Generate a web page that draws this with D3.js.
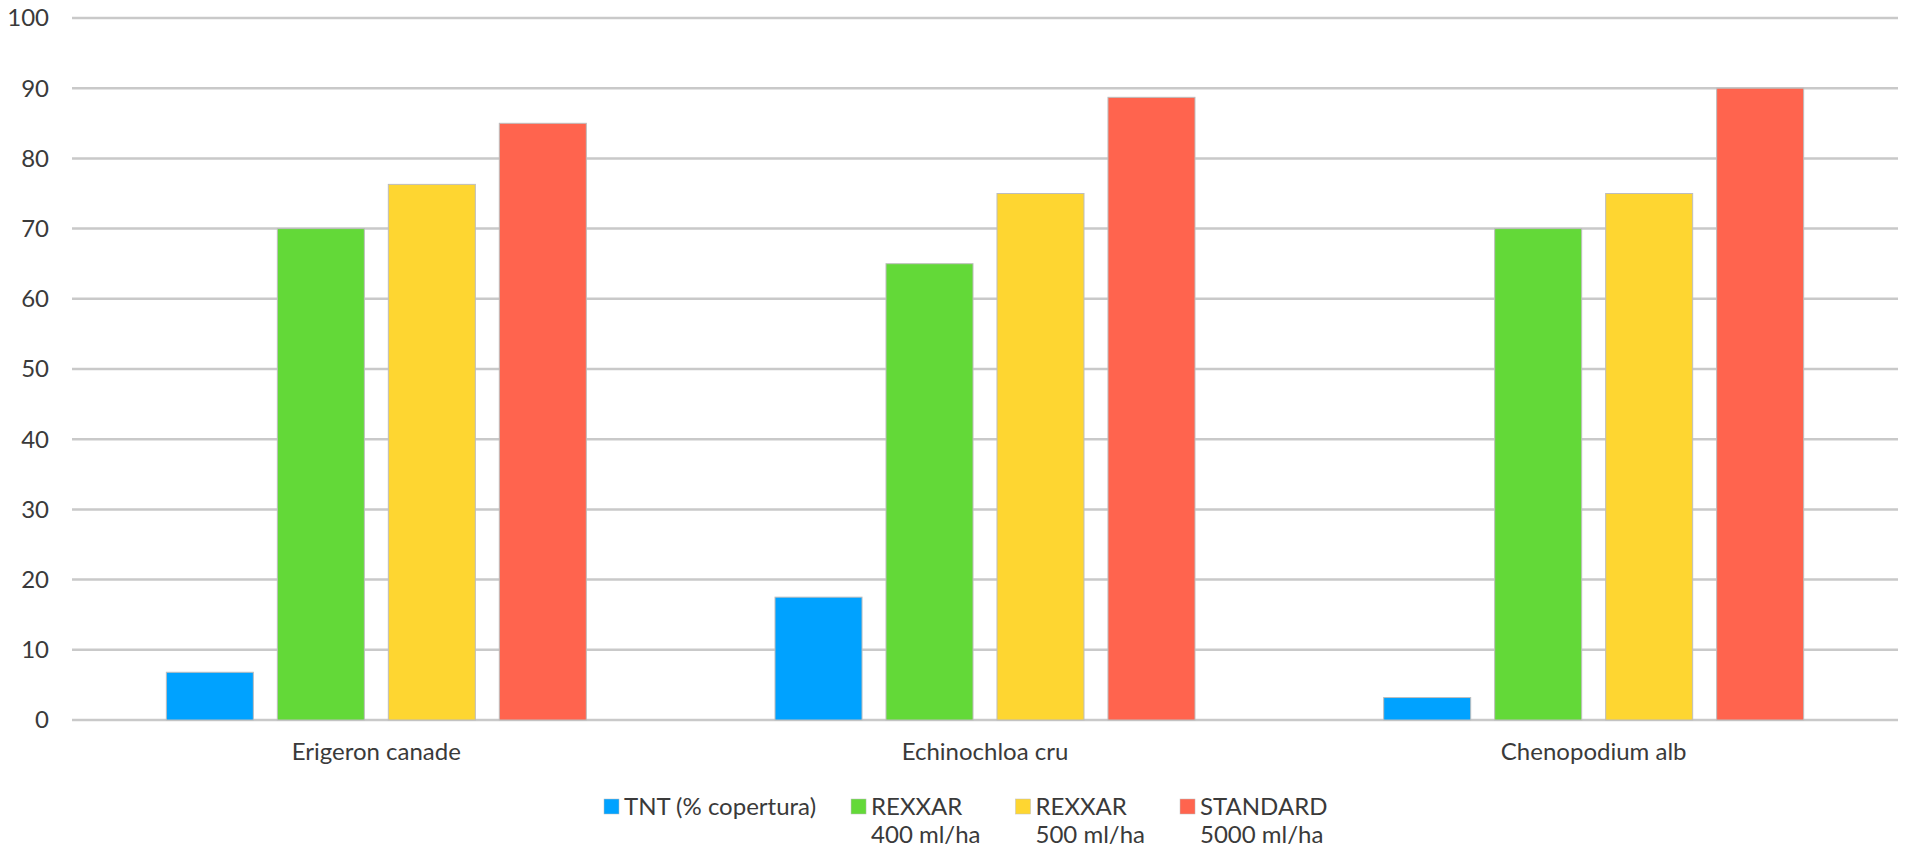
<!DOCTYPE html>
<head>
  <meta charset="utf-8">
  <script src="https://d3js.org/d3.v7.min.js"></script>
  <style>
  body { margin: 0; background: #fff; }
  text { font-family: Lato, "Open Sans", sans-serif; fill: #3a3a3a; }
  .grid line { stroke: #c9c9c9; stroke-width: 2.5px; }
  .bar { stroke: #bdbdbd; stroke-width: 1px; }
</style>
</head>
<body>
<svg width="1906" height="848"></svg>

<script type="text/javascript">
// Data
var categories = ["Erigeron canade", "Echinochloa cru", "Chenopodium alb"];
var seriesNames = [["TNT (% copertura)"], ["REXXAR", "400 ml/ha"], ["REXXAR", "500 ml/ha"], ["STANDARD", "5000 ml/ha"]];
var tnt = [6.8, 17.5, 3.2];
var rexxar400 = [70, 65, 70];
var rexxar500 = [76.3, 75, 75];
var standard = [85, 88.7, 90];
var yTicks = [0, 10, 20, 30, 40, 50, 60, 70, 80, 90, 100];
var colors = ["#00a2ff", "#63d938", "#fed631", "#ff644e"];

var series = [tnt, rexxar400, rexxar500, standard];

var svg = d3.select("svg");
var plotLeft = 72, plotRight = 1898, plotTop = 18, plotBottom = 720;

var y = d3.scaleLinear().domain([0, 100]).range([plotBottom, plotTop]);

var x0 = d3.scaleBand()
    .domain(categories)
    .range([plotLeft, plotRight])
    .paddingInner(0.31)
    .paddingOuter(0.155);

var x1 = d3.scaleBand()
    .domain(d3.range(series.length))
    .range([0, x0.bandwidth()])
    .paddingInner(0.216);

// gridlines
svg.append("g")
    .attr("class", "grid")
    .selectAll("line")
    .data(yTicks)
    .enter().append("line")
    .attr("x1", plotLeft)
    .attr("x2", plotRight)
    .attr("y1", function(d) { return y(d); })
    .attr("y2", function(d) { return y(d); });

// y labels
svg.append("g")
    .selectAll("text")
    .data(yTicks)
    .enter().append("text")
    .attr("x", 49)
    .attr("y", function(d) { return y(d); })
    .attr("dy", "0.35em")
    .attr("text-anchor", "end")
    .style("font-size", "24px")
    .text(function(d) { return d; });

// bars
var groups = svg.append("g")
    .selectAll("g")
    .data(categories)
    .enter().append("g")
    .attr("transform", function(d) { return "translate(" + x0(d) + ",0)"; });

groups.selectAll("rect")
    .data(function(d, ci) { return series.map(function(s, si) { return { si: si, v: s[ci] }; }); })
    .enter().append("rect")
    .attr("class", "bar")
    .attr("x", function(d) { return x1(d.si); })
    .attr("width", x1.bandwidth())
    .attr("y", function(d) { return y(d.v); })
    .attr("height", function(d) { return y(0) - y(d.v); })
    .attr("fill", function(d) { return colors[d.si]; });

// category labels
svg.append("g")
    .selectAll("text")
    .data(categories)
    .enter().append("text")
    .attr("x", function(d) { return x0(d) + x0.bandwidth() / 2; })
    .attr("y", 752)
    .attr("dy", "0.35em")
    .attr("text-anchor", "middle")
    .style("font-size", "24px")
    .text(function(d) { return d; });

// legend, laid out by measured text width
var legend = svg.append("g");
var lx = 604;
seriesNames.forEach(function(lines, i) {
  var item = legend.append("g").attr("transform", "translate(" + lx + ",0)");
  item.append("rect")
      .attr("x", 0).attr("y", 799)
      .attr("width", 15).attr("height", 15)
      .attr("fill", colors[i])
      .attr("stroke", "#bdbdbd").attr("stroke-width", 0.5);
  var w = 0;
  lines.forEach(function(t, j) {
    var txt = item.append("text")
        .attr("x", 20)
        .attr("y", 807 + j * 28)
        .attr("dy", "0.35em")
        .style("font-size", "24px")
        .text(t);
    w = Math.max(w, txt.node().getComputedTextLength());
  });
  lx += 20 + w + 35;
});
</script>

</body>
</html>
